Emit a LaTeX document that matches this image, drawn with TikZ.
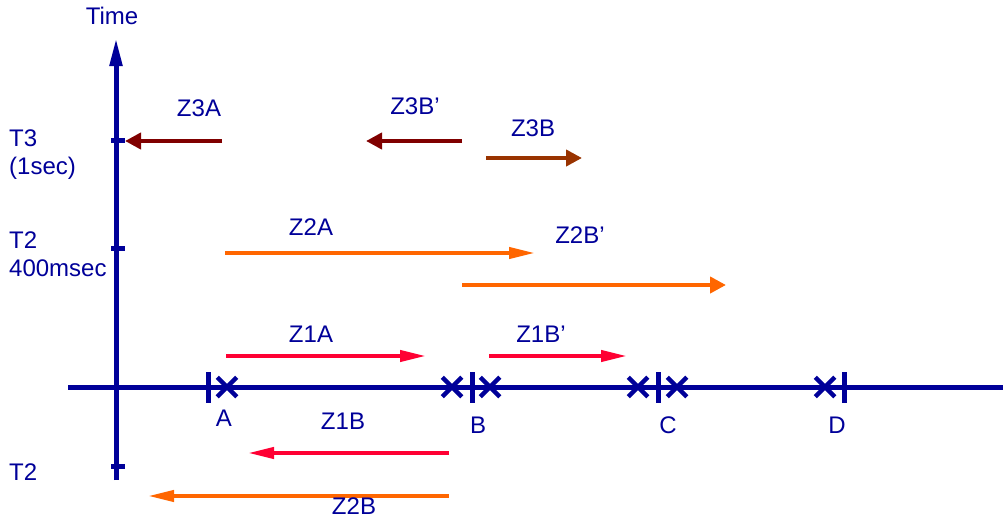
\documentclass[tikz,border=0pt]{standalone}
\usepackage{fontspec}
\setmainfont{Liberation Sans}
\usetikzlibrary{arrows.meta,shapes.misc}
\definecolor{navy}{RGB}{0,0,153}
\definecolor{zred}{RGB}{255,0,51}
\definecolor{zorange}{RGB}{255,102,0}
\definecolor{zdark}{RGB}{128,0,0}
\definecolor{zbrown}{RGB}{153,51,0}
\tikzset{
  lbl/.style={text=navy, font=\fontsize{24}{28}\selectfont, inner sep=0pt, anchor=base},
  axis/.style={draw=navy, line width=5pt},
  tck/.style={draw=navy, line width=5pt},
  xmk/.style={cross out, draw=navy, line width=4.5pt, minimum size=15pt, inner sep=0pt},
  lng/.style={-{Triangle[length=26pt,width=11pt]}, line width=4pt},
  shrt/.style={-{Triangle[length=16pt,width=16pt]}, line width=4pt}
}

\begin{document}
\begin{tikzpicture}[x=1pt,y=-1pt]
	\useasboundingbox (0,0) rectangle (1003,519);

	% axes
	\coordinate (tbot) at (116,480);
	\coordinate (ttop) at (116,38);
	\coordinate (xleft) at (68,387);
	\coordinate (xright) at (1003,387);
	\draw[axis, -{Triangle[length=28pt,width=12pt]}] (tbot) -- (ttop);
	\draw[axis] (xleft) -- (xright);
	\node[lbl] (time) at (112,25) {Time};

	% time marks
	\coordinate (t3a) at (111,140);
	\coordinate (t3b) at (125,140);
	\coordinate (t2a) at (111,248);
	\coordinate (t2b) at (125,248);
	\coordinate (t2la) at (111,466);
	\coordinate (t2lb) at (125,466);
	\draw[tck] (t3a) -- (t3b);
	\draw[tck] (t2a) -- (t2b);
	\draw[tck] (t2la) -- (t2lb);
	\node[lbl, anchor=base west] (t3) at (9,146) {T3};
	\node[lbl, anchor=base west] (t3s) at (9,174) {(1sec)};
	\node[lbl, anchor=base west] (t2) at (9,248) {T2};
	\node[lbl, anchor=base west] (t2s) at (9,276) {400msec};
	\node[lbl, anchor=base west] (t2l) at (9,480) {T2};

	% stations
	\foreach \nm/\px in {a/208,b/472,c/658,d/844}{
		\coordinate (\nm-up) at (\px,372);
		\coordinate (\nm-dn) at (\px,403);
		\draw[tck] (\nm-up) -- (\nm-dn);
	}
	\node[lbl] (la) at (224,426) {A};
	\node[lbl] (lb) at (478,433) {B};
	\node[lbl] (lc) at (668,433) {C};
	\node[lbl] (ld) at (837,433) {D};

	% crossings
	\foreach \nm/\px in {xa/227,xbl/452,xbr/490,xcl/638,xcr/677,xdl/825}
		\node[xmk] (\nm) at (\px,387) {};

	% zone 3
	\coordinate (z3a-s) at (222,141);
	\coordinate (z3a-e) at (125,141);
	\draw[shrt, zdark] (z3a-s) -- (z3a-e);
	\node[lbl] (lz3a) at (199,116) {Z3A};

	\coordinate (z3bp-s) at (462,141);
	\coordinate (z3bp-e) at (366,141);
	\draw[shrt, zdark] (z3bp-s) -- (z3bp-e);
	\node[lbl] (lz3bp) at (415,114) {Z3B’};

	\coordinate (z3b-s) at (486,158);
	\coordinate (z3b-e) at (582,158);
	\draw[shrt, zbrown] (z3b-s) -- (z3b-e);
	\node[lbl] (lz3b) at (533,136) {Z3B};

	% zone 2
	\coordinate (z2a-s) at (225,253);
	\coordinate (z2a-e) at (535,253);
	\draw[lng, zorange] (z2a-s) -- (z2a-e);
	\node[lbl] (lz2a) at (311,235) {Z2A};

	\coordinate (z2bp-s) at (462,285);
	\coordinate (z2bp-e) at (726,285);
	\draw[shrt, zorange] (z2bp-s) -- (z2bp-e);
	\node[lbl] (lz2bp) at (580,243) {Z2B’};

	\coordinate (z2b-s) at (449,496);
	\coordinate (z2b-e) at (148,496);
	\draw[lng, zorange] (z2b-s) -- (z2b-e);
	\node[lbl] (lz2b) at (354,514) {Z2B};

	% zone 1
	\coordinate (z1a-s) at (226,356);
	\coordinate (z1a-e) at (426,356);
	\draw[lng, zred] (z1a-s) -- (z1a-e);
	\node[lbl] (lz1a) at (311,342) {Z1A};

	\coordinate (z1bp-s) at (489,356);
	\coordinate (z1bp-e) at (627,356);
	\draw[lng, zred] (z1bp-s) -- (z1bp-e);
	\node[lbl] (lz1bp) at (541,342) {Z1B’};

	\coordinate (z1b-s) at (449,453);
	\coordinate (z1b-e) at (248,453);
	\draw[lng, zred] (z1b-s) -- (z1b-e);
	\node[lbl] (lz1b) at (343,429) {Z1B};
\end{tikzpicture}
\end{document}
